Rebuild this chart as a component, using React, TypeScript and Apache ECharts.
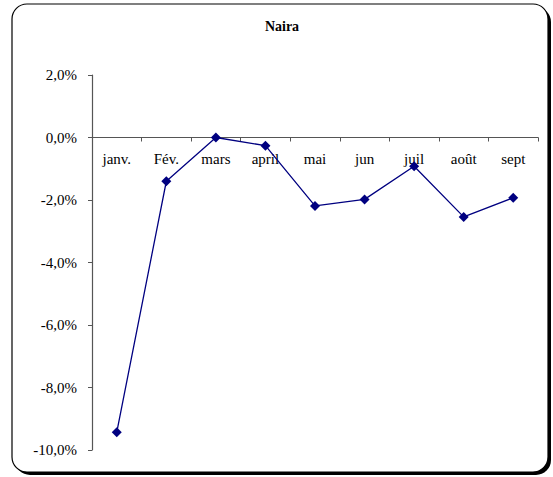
import React, { useEffect, useRef } from "react";
import * as echarts from "echarts";

const categories = ["janv.", "Fév.", "mars", "april", "mai", "jun", "juil", "août", "sept"];
const values = [-9.43, -1.4, 0.0, -0.26, -2.19, -1.98, -0.92, -2.54, -1.93];
const yTicks = { min: -10, max: 2, interval: 2 };
const titleText = "Naira";

const FONT = "Liberation Serif";

export default function App() {
  const ref = useRef<HTMLDivElement>(null);
  useEffect(() => {
    if (!ref.current) return;
    const chart = echarts.init(ref.current, null, { renderer: "svg" });
    const gridTop = 75;
    const gridBottomY = 450;
    const zeroY =
      gridTop + ((yTicks.max - 0) / (yTicks.max - yTicks.min)) * (gridBottomY - gridTop);
    chart.setOption({
      animation: false,
      backgroundColor: "#ffffff",
      graphic: [
        {
          type: "rect",
          z: -10,
          silent: true,
          shape: { x: 15, y: 7, width: 536, height: 468, r: 15 },
          style: { fill: "#000000" },
        },
        {
          type: "rect",
          z: -9,
          silent: true,
          shape: { x: 12, y: 4, width: 536, height: 468, r: 15 },
          style: { fill: "#ffffff", stroke: "#000000", lineWidth: 1.2 },
        },
        {
          type: "text",
          z: 10,
          x: 282,
          y: 26,
          style: {
            text: titleText,
            fontFamily: FONT,
            fontWeight: "bold",
            fontSize: 14,
            fill: "#000000",
            align: "center",
            verticalAlign: "middle",
          },
        },
      ],
      grid: { left: 92, right: 15, top: gridTop, bottom: 477 - gridBottomY, containLabel: false },
      xAxis: {
        type: "category",
        data: categories,
        boundaryGap: true,
        offset: -(gridBottomY - zeroY),
        axisLine: { onZero: false, lineStyle: { color: "#555555", width: 1.2 } },
        axisTick: { show: true, interval: 0, length: 4, lineStyle: { color: "#555555" } },
        axisLabel: {
          interval: 0,
          margin: 14,
          color: "#000000",
          fontFamily: FONT,
          fontSize: 15,
        },
        splitLine: { show: false },
      },
      yAxis: {
        type: "value",
        min: yTicks.min,
        max: yTicks.max,
        interval: yTicks.interval,
        axisLine: { show: true, lineStyle: { color: "#555555", width: 1.2 } },
        axisTick: { show: true, length: 4, lineStyle: { color: "#555555" } },
        axisLabel: {
          margin: 15,
          color: "#000000",
          fontFamily: FONT,
          fontSize: 15,
          formatter: (v: number) => v.toFixed(1).replace(".", ",") + "%",
        },
        splitLine: { show: false },
      },
      series: [
        {
          type: "line",
          data: values,
          symbol: "diamond",
          symbolSize: 10,
          lineStyle: { color: "#000080", width: 1.3 },
          itemStyle: { color: "#000080" },
        },
      ],
    });
    return () => chart.dispose();
  }, []);
  return (
    <div
      ref={ref}
      style={{ position: "fixed", left: 0, top: 0, width: 553, height: 477 }}
    />
  );
}
